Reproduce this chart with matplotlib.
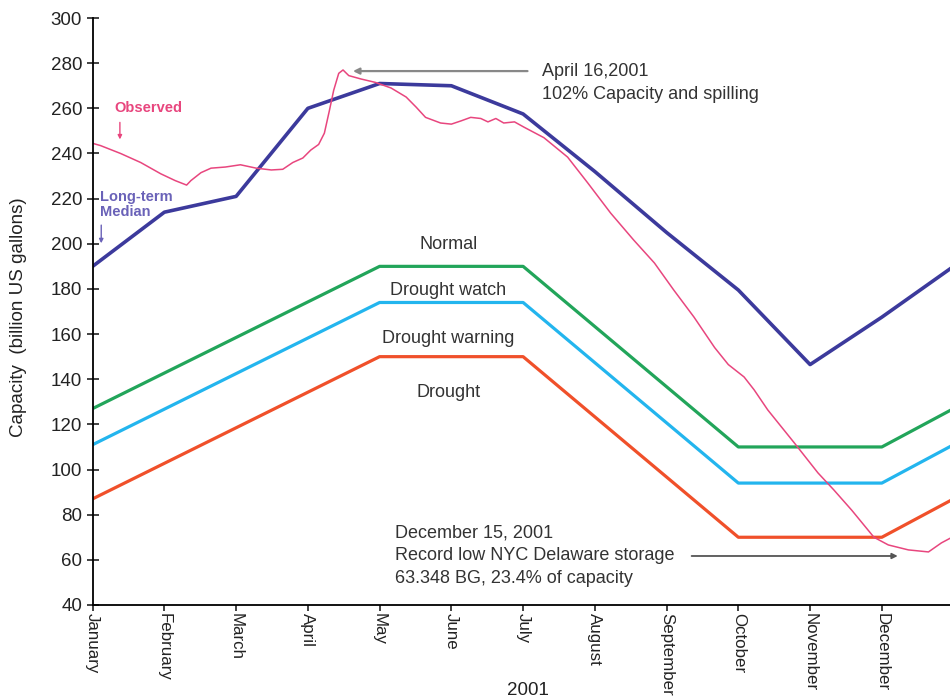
import matplotlib
matplotlib.use("Agg")
import matplotlib.pyplot as plt
import numpy as np

plt.rcParams['font.family'] = ['Liberation Sans', 'DejaVu Sans']

months = ['January', 'February', 'March', 'April', 'May', 'June', 'July',
          'August', 'September', 'October', 'November', 'December']

# rule curves (x in months from 1 Jan)
rule_x = [0, 4, 6, 9, 11, 12]
normal = [127, 190, 190, 110, 110, 127]
watch = [111, 174, 174, 94, 94, 111]
warning = [87, 150, 150, 70, 70, 87]

median_x = [0, 1, 2, 3, 4, 5, 6, 7, 8, 9, 10, 11, 12]
median = [190, 214, 221, 260, 271, 270, 257.5, 232, 205, 179.5, 146.5, 167.5, 190]

obs_x = [0.0, 0.11, 0.39, 0.67, 0.95, 1.15, 1.31, 1.37, 1.51, 1.65, 1.85, 2.06,
         2.28, 2.49, 2.65, 2.79, 2.93, 3.04, 3.15, 3.23, 3.30, 3.36, 3.43, 3.49,
         3.57, 3.74, 3.94, 4.16, 4.37, 4.51, 4.64, 4.85, 5.00, 5.14, 5.27, 5.41,
         5.51, 5.62, 5.73, 5.88, 6.01, 6.29, 6.62, 6.90, 7.22, 7.54, 7.83, 8.10,
         8.38, 8.67, 8.86, 9.08, 9.22, 9.41, 9.78, 10.11, 10.33, 10.58, 10.89,
         11.09, 11.37, 11.65, 11.83, 11.96]
observed = [244.5, 243.5, 240, 236, 231, 228, 226, 228, 231.5, 233.5, 234, 235,
            233.5, 232.7, 233, 236, 238, 241.5, 244, 249, 259, 268, 275.5, 277,
            274.5, 273, 271.5, 269, 265, 260.5, 256, 253.5, 253, 254.5, 256, 255.5,
            254, 255.5, 253.5, 254, 251.7, 247, 238.4, 227, 213.6, 201.7, 191.5,
            179.5, 167.6, 154, 146.5, 141, 135.3, 126.4, 111.8, 98.5, 91, 82, 70,
            66.6, 64.4, 63.5, 67.5, 69.7]

fig = plt.figure(figsize=(9.5, 6.99), dpi=100)
ax = fig.add_axes([0.0975, 0.1345, 0.9025, 0.8397])

ax.plot(rule_x, normal, color='#22a55a', lw=2.3)
ax.plot(rule_x, watch, color='#23b5ee', lw=2.3)
ax.plot(rule_x, warning, color='#f0502a', lw=2.3)
ax.plot(median_x, median, color='#3c3a9c', lw=2.6)
ax.plot(obs_x, observed, color='#e8467e', lw=1.1)

ax.set_xlim(0, 11.95)
ax.set_ylim(40, 300)
ax.set_yticks(np.arange(40, 301, 20))
ax.set_xticks(range(12))
ax.set_xticklabels(months, rotation=270, va='top', ha='center')

for s in ['top', 'right']:
    ax.spines[s].set_visible(False)
ax.tick_params(axis='y', direction='inout', length=9, labelsize=13.5, width=1.2,
               colors='#222222', pad=3)
ax.tick_params(axis='x', direction='out', length=4, labelsize=12.2, width=1.2,
               colors='#222222', pad=2)
ax.spines['left'].set_linewidth(1.3)
ax.spines['bottom'].set_linewidth(1.3)

ax.set_ylabel('Capacity  (billion US gallons)', fontsize=13.5, color='#222222')
ax.yaxis.set_label_coords(-0.077, 0.49)
fig.text(0.556, 0.006, '2001', fontsize=13.5, ha='center', color='#222222')

txt = '#333333'
ax.text(4.96, 199.5, 'Normal', ha='center', va='center', fontsize=13, color=txt)
ax.text(4.96, 179.5, 'Drought watch', ha='center', va='center', fontsize=13, color=txt)
ax.text(4.96, 158, 'Drought warning', ha='center', va='center', fontsize=13, color=txt)
ax.text(4.96, 134, 'Drought', ha='center', va='center', fontsize=13, color=txt)

ax.text(0.31, 260, 'Observed', ha='left', va='center', fontsize=10.5,
        fontweight='bold', color='#e8467e')
ax.annotate('', xy=(0.38, 245), xytext=(0.38, 255),
            arrowprops=dict(arrowstyle='-|>', color='#e8467e', lw=1,
                            mutation_scale=6))
ax.text(0.1, 217.5, 'Long-term\nMedian', ha='left', va='center', fontsize=10.5,
        fontweight='bold', color='#6a62b8', linespacing=1.05)
ax.annotate('', xy=(0.12, 199), xytext=(0.12, 209.5),
            arrowprops=dict(arrowstyle='-|>', color='#6a62b8', lw=1,
                            mutation_scale=6))

ax.annotate('', xy=(3.59, 276.5), xytext=(6.10, 276.5),
            arrowprops=dict(arrowstyle='-|>', color='#888888', lw=1.6,
                            mutation_scale=9))
ax.text(6.26, 276.5, 'April 16,2001', ha='left', va='center', fontsize=13, color=txt)
ax.text(6.26, 266.3, '102% Capacity and spilling', ha='left', va='center',
        fontsize=13, color=txt)

ax.text(4.22, 71.8, 'December 15, 2001', ha='left', va='center', fontsize=13, color=txt)
ax.text(4.22, 61.7, 'Record low NYC Delaware storage', ha='left', va='center',
        fontsize=13, color=txt)
ax.text(4.22, 51.9, '63.348 BG, 23.4% of capacity', ha='left', va='center',
        fontsize=13, color=txt)
ax.annotate('', xy=(11.26, 61.7), xytext=(8.31, 61.7),
            arrowprops=dict(arrowstyle='-|>', color='#555555', lw=1.3,
                            mutation_scale=8))

fig.savefig('out.png', dpi=100)
